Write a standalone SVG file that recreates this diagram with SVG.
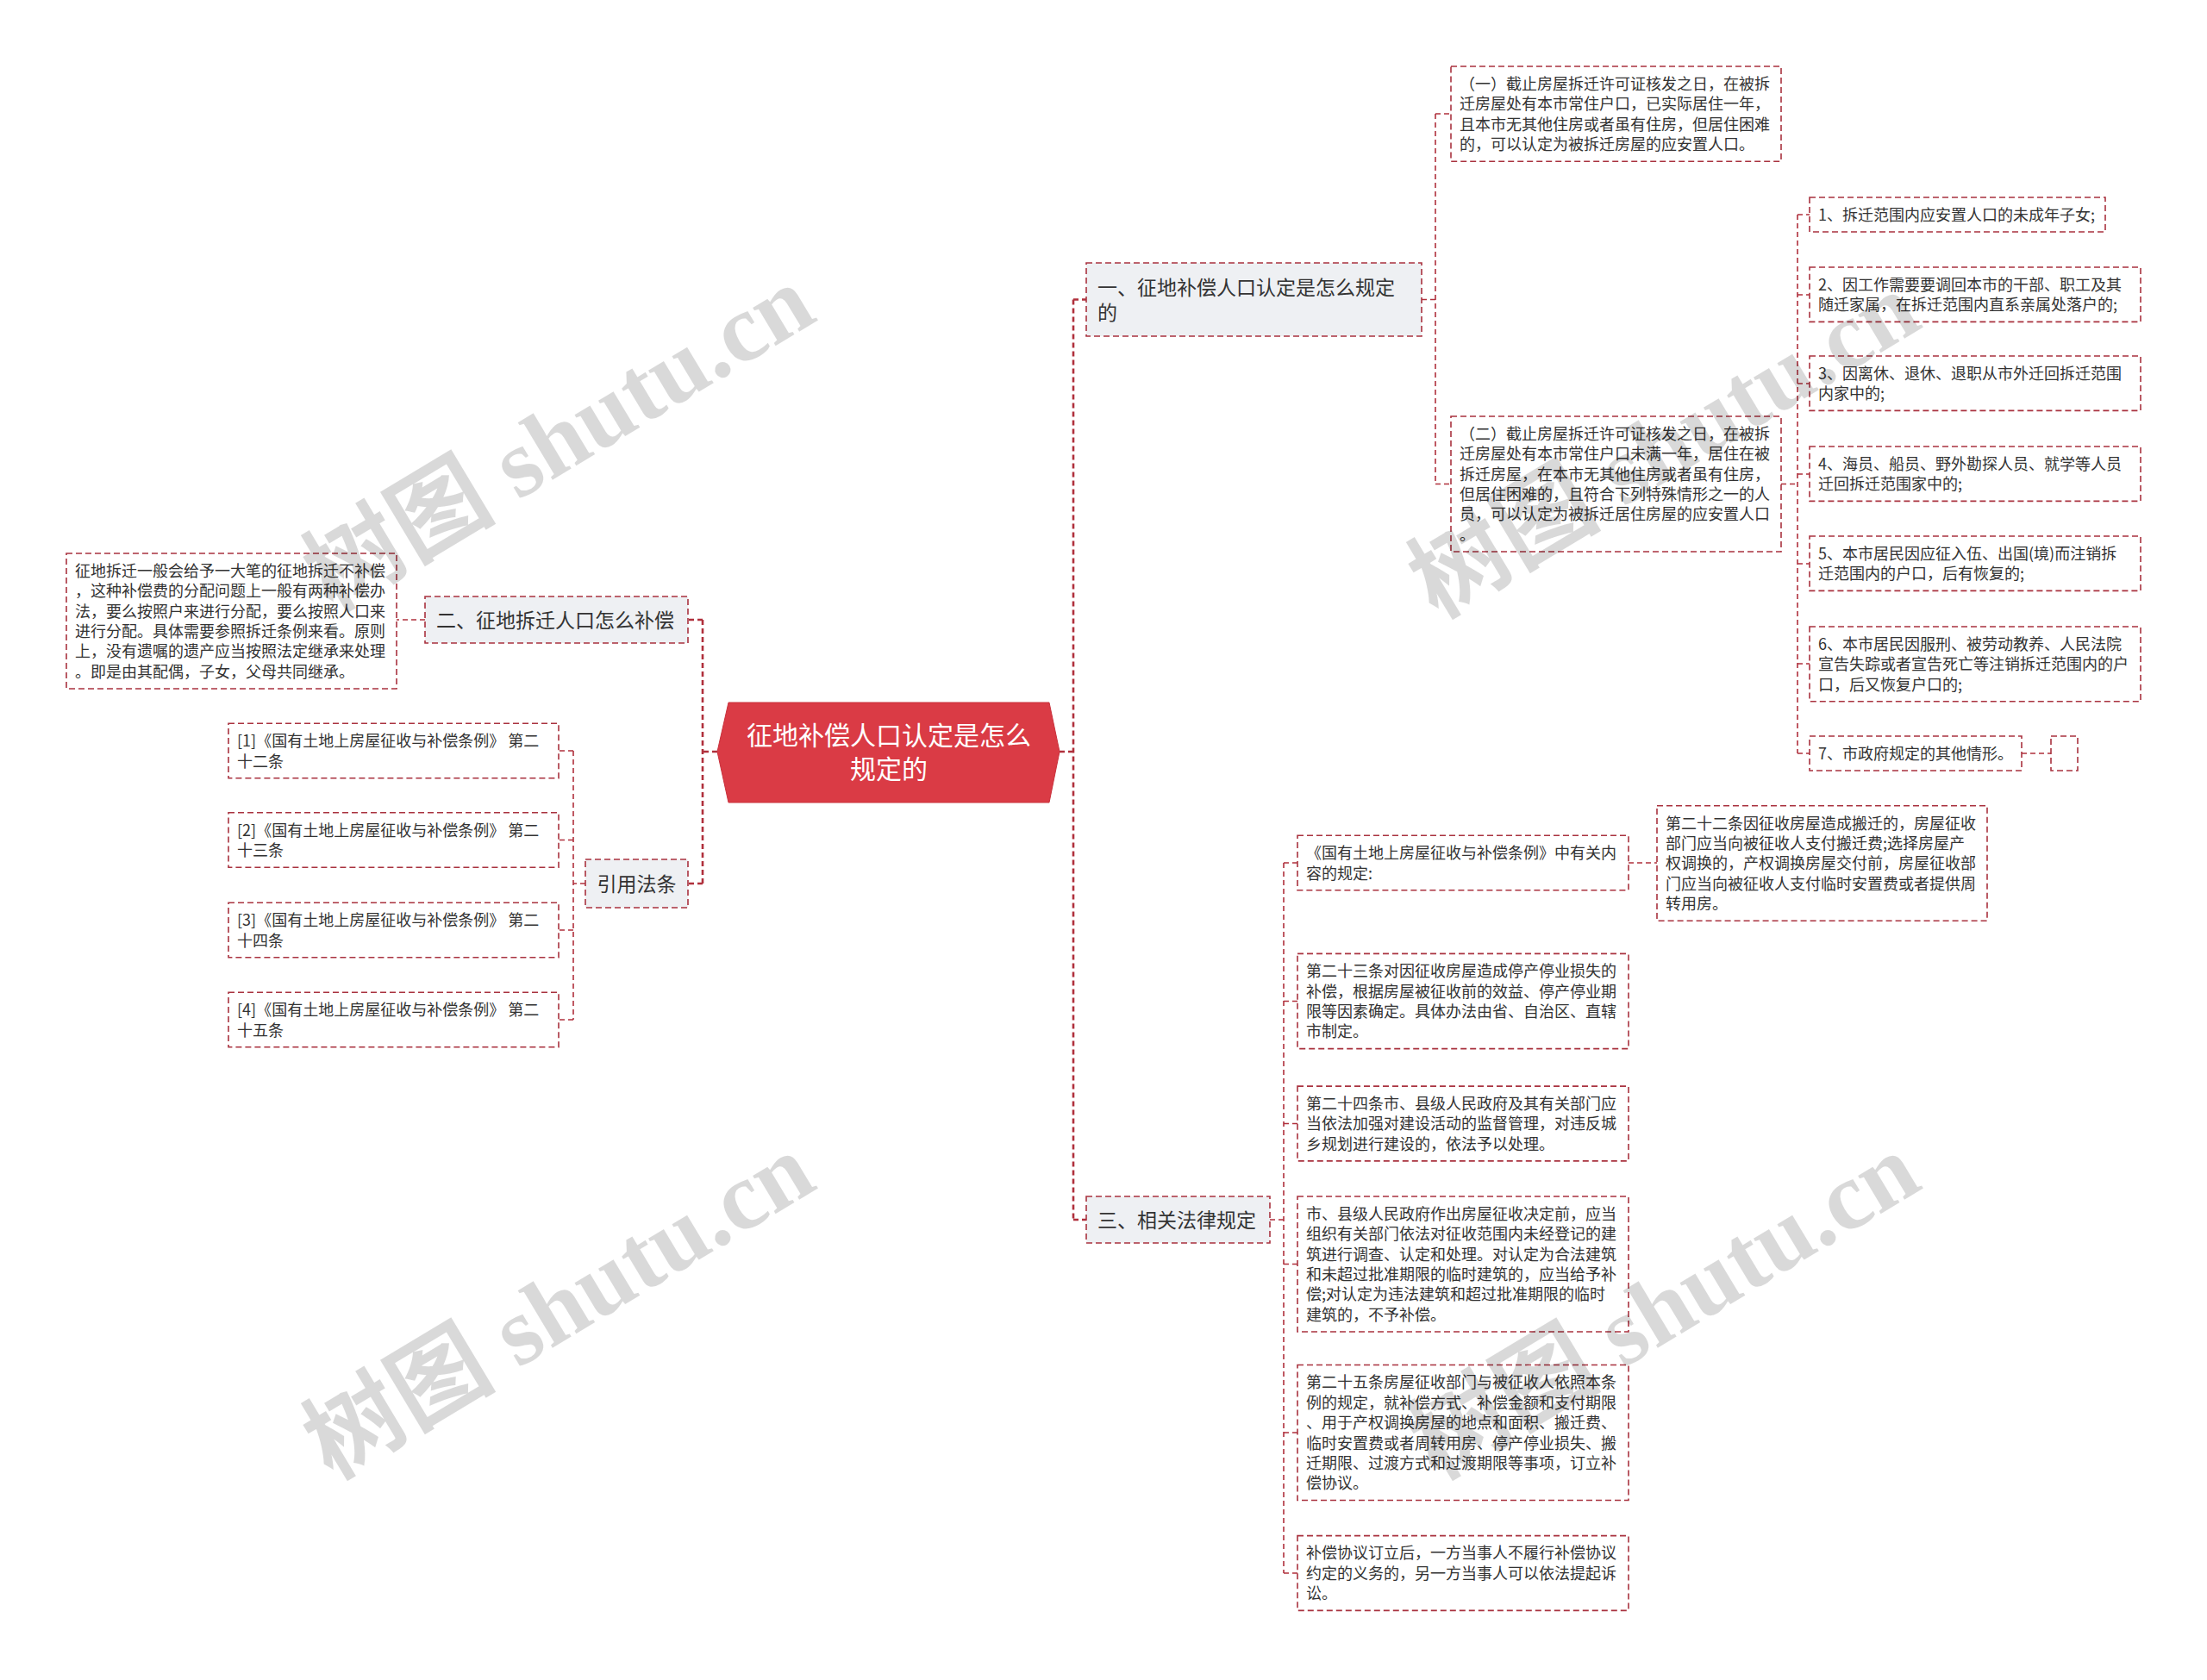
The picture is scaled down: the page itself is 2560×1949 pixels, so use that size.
<svg xmlns="http://www.w3.org/2000/svg" width="2560" height="1949" viewBox="0 0 2560 1949">
<style>
.bg{fill:#ffffff}
.leaf{fill:#ffffff;stroke:#a9323f;stroke-width:1.6;stroke-dasharray:7 4}
.br{fill:#eef0f3;stroke:#a9323f;stroke-width:1.6;stroke-dasharray:7 4}
.t{font-family:"Noto Sans CJK SC","Noto Sans",sans-serif;font-size:18px;fill:#333333}
.tb{font-family:"Noto Sans CJK SC","Noto Sans",sans-serif;font-size:23px;fill:#333333}
.tc{font-family:"Noto Sans CJK SC","Noto Sans",sans-serif;font-size:30px;fill:#ffffff;text-anchor:middle}
.c{fill:none;stroke:#b0303c;stroke-width:1.6;stroke-dasharray:6 4}
.cm{fill:none;stroke:#b0303c;stroke-width:2.6;stroke-dasharray:6 4}
.wm{font-family:"Liberation Serif","Noto Sans CJK SC",serif;font-weight:bold;font-size:112px;fill:#000000;fill-opacity:0.15;text-anchor:middle}
</style>
<rect class="bg" x="0" y="0" width="2560" height="1949"/>

<g id="connectors">
  <path class="cm" d="M1229,872 H1245 M1245,347.5 V1415 M1245,347.5 H1260 M1245,1415 H1260"/>
  <path class="cm" d="M832,872 H815 M815,719 V1025 M815,719 H798 M815,1025 H798"/>
  <path class="c" d="M1649,347.5 H1665 M1665,132 V561.5 M1665,132 H1683 M1665,561.5 H1683"/>
  <path class="c" d="M2066,561.5 H2085 M2085,249 V874 M2085,249 H2099 M2085,342 H2099 M2085,445 H2099 M2085,550 H2099 M2085,654 H2099 M2085,770 H2099 M2085,874 H2099"/>
  <path class="c" d="M2345,874 H2379"/>
  <path class="c" d="M1473,1415 H1489 M1489,1001 V1825 M1489,1001 H1505 M1489,1161.5 H1505 M1489,1303.5 H1505 M1489,1466.5 H1505 M1489,1662 H1505 M1489,1825 H1505"/>
  <path class="c" d="M1889,1001 H1922"/>
  <path class="c" d="M493,719 H460"/>
  <path class="c" d="M679,1025 H665 M665,871 V1183 M665,871 H648 M665,974.5 H648 M665,1079 H648 M665,1183 H648"/>
</g>

<g id="center">
  <polygon points="845,815 1217,815 1229,872 1217,931 845,931 832,872" fill="#da3b45" stroke="#c9303b" stroke-width="1"/>
  <text class="tc" x="1031" y="864.4">征地补偿人口认定是怎么</text>
  <text class="tc" x="1031" y="903.4">规定的</text>
</g>

<g id="node-yi">
  <rect class="br" x="1260" y="305" width="389" height="85"/>
  <text class="tb" x="1273" y="342">一、征地补偿人口认定是怎么规定</text>
  <text class="tb" x="1273" y="371">的</text>
</g>

<g id="box-1">
  <rect class="leaf" x="1683" y="77" width="383" height="110.2"/>
  <text class="t" x="1693" y="103.8">（一）截止房屋拆迁许可证核发之日，在被拆<tspan x="1693" dy="23.4">迁房屋处有本市常住户口，已实际居住一年，</tspan><tspan x="1693" dy="23.4">且本市无其他住房或者虽有住房，但居住困难</tspan><tspan x="1693" dy="23.4">的，可以认定为被拆迁房屋的应安置人口。</tspan></text>
</g>

<g id="box-2">
  <rect class="leaf" x="1683" y="483" width="383" height="157"/>
  <text class="t" x="1693" y="509.8">（二）截止房屋拆迁许可证核发之日，在被拆<tspan x="1693" dy="23.4">迁房屋处有本市常住户口未满一年，居住在被</tspan><tspan x="1693" dy="23.4">拆迁房屋，在本市无其他住房或者虽有住房，</tspan><tspan x="1693" dy="23.4">但居住困难的，且符合下列特殊情形之一的人</tspan><tspan x="1693" dy="23.4">员，可以认定为被拆迁居住房屋的应安置人口</tspan><tspan x="1693" dy="23.4">。</tspan></text>
</g>

<g id="item-1">
  <rect class="leaf" x="2099" y="229" width="343" height="40"/>
  <text class="t" x="2109" y="255.8">1、拆迁范围内应安置人口的未成年子女;</text>
</g>
<g id="item-2">
  <rect class="leaf" x="2099" y="310" width="384" height="63.4"/>
  <text class="t" x="2109" y="336.8">2、因工作需要要调回本市的干部、职工及其<tspan x="2109" dy="23.4">随迁家属，在拆迁范围内直系亲属处落户的;</tspan></text>
</g>
<g id="item-3">
  <rect class="leaf" x="2099" y="413" width="384" height="63.4"/>
  <text class="t" x="2109" y="439.8">3、因离休、退休、退职从市外迁回拆迁范围<tspan x="2109" dy="23.4">内家中的;</tspan></text>
</g>
<g id="item-4">
  <rect class="leaf" x="2099" y="518" width="384" height="63.4"/>
  <text class="t" x="2109" y="544.8">4、海员、船员、野外勘探人员、就学等人员<tspan x="2109" dy="23.4">迁回拆迁范围家中的;</tspan></text>
</g>
<g id="item-5">
  <rect class="leaf" x="2099" y="622" width="384" height="63.4"/>
  <text class="t" x="2109" y="648.8">5、本市居民因应征入伍、出国(境)而注销拆<tspan x="2109" dy="23.4">迁范围内的户口，后有恢复的;</tspan></text>
</g>
<g id="item-6">
  <rect class="leaf" x="2099" y="727" width="384" height="86.8"/>
  <text class="t" x="2109" y="753.8">6、本市居民因服刑、被劳动教养、人民法院<tspan x="2109" dy="23.4">宣告失踪或者宣告死亡等注销拆迁范围内的户</tspan><tspan x="2109" dy="23.4">口，后又恢复户口的;</tspan></text>
</g>
<g id="item-7">
  <rect class="leaf" x="2099" y="854" width="246" height="40"/>
  <text class="t" x="2109" y="880.8">7、市政府规定的其他情形。</text>
</g>
<g id="item-7-empty">
  <rect class="leaf" x="2379" y="854" width="31" height="40"/>
</g>

<g id="node-san">
  <rect class="br" x="1260" y="1388" width="213" height="54"/>
  <text class="tb" x="1273" y="1423.7">三、相关法律规定</text>
</g>

<g id="law-intro">
  <rect class="leaf" x="1505" y="969.3" width="384" height="63.4"/>
  <text class="t" x="1515" y="996.1">《国有土地上房屋征收与补偿条例》中有关内<tspan x="1515" dy="23.4">容的规定:</tspan></text>
</g>
<g id="law-22">
  <rect class="leaf" x="1922" y="934.7" width="383" height="133.6"/>
  <text class="t" x="1932" y="961.5">第二十二条因征收房屋造成搬迁的，房屋征收<tspan x="1932" dy="23.4">部门应当向被征收人支付搬迁费;选择房屋产</tspan><tspan x="1932" dy="23.4">权调换的，产权调换房屋交付前，房屋征收部</tspan><tspan x="1932" dy="23.4">门应当向被征收人支付临时安置费或者提供周</tspan><tspan x="1932" dy="23.4">转用房。</tspan></text>
</g>
<g id="law-23">
  <rect class="leaf" x="1505" y="1106.4" width="384" height="110.2"/>
  <text class="t" x="1515" y="1133.2">第二十三条对因征收房屋造成停产停业损失的<tspan x="1515" dy="23.4">补偿，根据房屋被征收前的效益、停产停业期</tspan><tspan x="1515" dy="23.4">限等因素确定。具体办法由省、自治区、直辖</tspan><tspan x="1515" dy="23.4">市制定。</tspan></text>
</g>
<g id="law-24">
  <rect class="leaf" x="1505" y="1260.1" width="384" height="86.8"/>
  <text class="t" x="1515" y="1286.9">第二十四条市、县级人民政府及其有关部门应<tspan x="1515" dy="23.4">当依法加强对建设活动的监督管理，对违反城</tspan><tspan x="1515" dy="23.4">乡规划进行建设的，依法予以处理。</tspan></text>
</g>
<g id="law-city">
  <rect class="leaf" x="1505" y="1388" width="384" height="157"/>
  <text class="t" x="1515" y="1414.8">市、县级人民政府作出房屋征收决定前，应当<tspan x="1515" dy="23.4">组织有关部门依法对征收范围内未经登记的建</tspan><tspan x="1515" dy="23.4">筑进行调查、认定和处理。对认定为合法建筑</tspan><tspan x="1515" dy="23.4">和未超过批准期限的临时建筑的，应当给予补</tspan><tspan x="1515" dy="23.4">偿;对认定为违法建筑和超过批准期限的临时</tspan><tspan x="1515" dy="23.4">建筑的，不予补偿。</tspan></text>
</g>
<g id="law-25">
  <rect class="leaf" x="1505" y="1583.5" width="384" height="157"/>
  <text class="t" x="1515" y="1610.3">第二十五条房屋征收部门与被征收人依照本条<tspan x="1515" dy="23.4">例的规定，就补偿方式、补偿金额和支付期限</tspan><tspan x="1515" dy="23.4">、用于产权调换房屋的地点和面积、搬迁费、</tspan><tspan x="1515" dy="23.4">临时安置费或者周转用房、停产停业损失、搬</tspan><tspan x="1515" dy="23.4">迁期限、过渡方式和过渡期限等事项，订立补</tspan><tspan x="1515" dy="23.4">偿协议。</tspan></text>
</g>
<g id="law-agreement">
  <rect class="leaf" x="1505" y="1781.6" width="384" height="86.8"/>
  <text class="t" x="1515" y="1808.4">补偿协议订立后，一方当事人不履行补偿协议<tspan x="1515" dy="23.4">约定的义务的，另一方当事人可以依法提起诉</tspan><tspan x="1515" dy="23.4">讼。</tspan></text>
</g>

<g id="node-er">
  <rect class="br" x="493" y="692" width="305" height="54"/>
  <text class="tb" x="506" y="727.7">二、征地拆迁人口怎么补偿</text>
</g>
<g id="er-text">
  <rect class="leaf" x="77" y="642" width="383" height="157"/>
  <text class="t" x="87" y="668.8">征地拆迁一般会给予一大笔的征地拆迁不补偿<tspan x="87" dy="23.4">，这种补偿费的分配问题上一般有两种补偿办</tspan><tspan x="87" dy="23.4">法，要么按照户来进行分配，要么按照人口来</tspan><tspan x="87" dy="23.4">进行分配。具体需要参照拆迁条例来看。原则</tspan><tspan x="87" dy="23.4">上，没有遗嘱的遗产应当按照法定继承来处理</tspan><tspan x="87" dy="23.4">。即是由其配偶，子女，父母共同继承。</tspan></text>
</g>

<g id="node-cite">
  <rect class="br" x="679" y="997" width="119" height="56"/>
  <text class="tb" x="738.5" y="1033.7" text-anchor="middle">引用法条</text>
</g>
<g id="cite-1">
  <rect class="leaf" x="265" y="839.3" width="383" height="63.4"/>
  <text class="t" x="275" y="866.1">[1]《国有土地上房屋征收与补偿条例》 第二<tspan x="275" dy="23.4">十二条</tspan></text>
</g>
<g id="cite-2">
  <rect class="leaf" x="265" y="942.8" width="383" height="63.4"/>
  <text class="t" x="275" y="969.6">[2]《国有土地上房屋征收与补偿条例》 第二<tspan x="275" dy="23.4">十三条</tspan></text>
</g>
<g id="cite-3">
  <rect class="leaf" x="265" y="1047.3" width="383" height="63.4"/>
  <text class="t" x="275" y="1074.1">[3]《国有土地上房屋征收与补偿条例》 第二<tspan x="275" dy="23.4">十四条</tspan></text>
</g>
<g id="cite-4">
  <rect class="leaf" x="265" y="1151.3" width="383" height="63.4"/>
  <text class="t" x="275" y="1178.1">[4]《国有土地上房屋征收与补偿条例》 第二<tspan x="275" dy="23.4">十五条</tspan></text>
</g>

<g id="watermarks">
  <text class="wm" transform="translate(648,508) rotate(-31)" x="0" y="38">树图 shutu.cn</text>
  <text class="wm" transform="translate(1930,516) rotate(-31)" x="0" y="38">树图 shutu.cn</text>
  <text class="wm" transform="translate(648,1515) rotate(-31)" x="0" y="38">树图 shutu.cn</text>
  <text class="wm" transform="translate(1930,1515) rotate(-31)" x="0" y="38">树图 shutu.cn</text>
</g>
</svg>
